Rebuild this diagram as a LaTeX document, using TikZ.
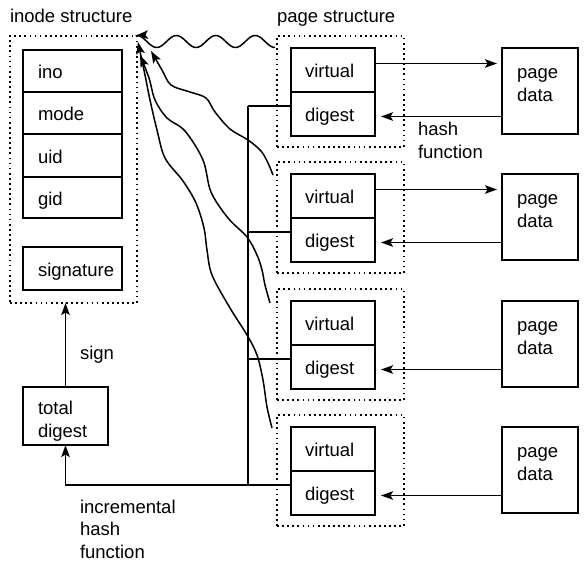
\documentclass[tikz,border=0pt]{standalone}
\usepackage{fontspec}
\setmainfont{Liberation Sans}
\usetikzlibrary{arrows.meta,calc}
\begin{document}
\begin{tikzpicture}[x=1pt,y=-1pt,
  every node/.style={font=\fontsize{18.5}{22.5}\selectfont, inner sep=0pt, outer sep=0pt},
  box/.style={draw, line width=1.5pt, anchor=north west},
  dotbox/.style={draw, line width=1.7pt, dash pattern=on 1.7pt off 3.4pt, anchor=north west},
  lbl/.style={anchor=base west, align=left},
  arr/.style={-{Stealth[length=12pt,width=8.5pt,inset=2.5pt]}},
  ln/.style={line width=1.5pt}
]
\useasboundingbox (0,0) rectangle (584,562);

% titles
\node[lbl] (tinode) at (10,23) {inode structure};
\node[lbl] (tpage) at (277,23) {page structure};

% inode structure
\node[dotbox, minimum width=127pt, minimum height=267pt] (inode) at (10,36) {};
\node[box, minimum width=99pt, minimum height=42pt] (ino) at (23,50) {};
\node[box, minimum width=99pt, minimum height=42pt] (mode) at (23,92) {};
\node[box, minimum width=99pt, minimum height=43pt] (uid) at (23,134) {};
\node[box, minimum width=99pt, minimum height=41pt] (gid) at (23,177) {};
\node[box, minimum width=99pt, minimum height=43pt] (sig) at (23,247) {};
\node[lbl] (tino) at ([xshift=15pt,yshift=-7.5pt]ino.west) {ino};
\node[lbl] (tmode) at ([xshift=15pt,yshift=-7.5pt]mode.west) {mode};
\node[lbl] (tuid) at ([xshift=15pt,yshift=-7.5pt]uid.west) {uid};
\node[lbl] (tgid) at ([xshift=15pt,yshift=-7.5pt]gid.west) {gid};
\node[lbl] (tsig) at ([xshift=15pt,yshift=-7.5pt]sig.west) {signature};

% total digest
\node[box, minimum width=85pt, minimum height=58pt] (td) at (23,387) {};
\node[lbl] (ttd) at (38,437) {total\\digest};

% page structures
\foreach \i/\T in {1/36,2/162,3/289,4/415} {
  \node[dotbox, minimum width=127pt, minimum height=111pt] (ps\i) at (277,\T) {};
  \node[box, minimum width=84pt, minimum height=44pt] (v\i) at (291,\T+12) {};
  \node[box, minimum width=84pt, minimum height=44pt] (d\i) at (291,\T+56) {};
  \node[box, minimum width=76pt, minimum height=86pt] (pd\i) at (502,\T+12) {};
  \node[lbl] (tv\i) at ([xshift=14pt,yshift=-7.5pt]v\i.west) {virtual};
  \node[lbl] (td\i) at ([xshift=14pt,yshift=-7.5pt]d\i.west) {digest};
  \node[lbl] (tpd\i) at (517,\T+65) {page\\data};
  \coordinate (b\i) at ([yshift=-2.5pt]d\i.east);
  \draw[ln,arr,shorten >=6pt] (b\i -| pd\i.west) -- (b\i);
  \coordinate (c\i) at ([yshift=8pt]d\i.west);
}
\foreach \i in {1,2} {
  \coordinate (a\i) at ([yshift=6.5pt]v\i.east);
  \draw[ln,arr,shorten >=5pt] (a\i) -- (a\i -| pd\i.west);
}

% digest bus
\coordinate (bus) at (248,0);
\foreach \i in {1,2,3} { \draw[ln] (c\i) -- (c\i -| bus); }
\draw[ln] (c1 -| bus) -- (c4 -| bus);
\draw[ln,arr] (c4) -| (td.south);

% sign
\draw[ln,arr] (td.north) -- (td.north |- inode.south);

% labels
\node[lbl] (tsign) at (80,359) {sign};
\node[lbl] (tinc) at (80,558) {incremental\\hash\\function};
\node[lbl] (thash) at (418,158) {hash\\function};

% wavy pointers
\draw[ln,arr] plot[domain=275:136,samples=90,smooth] (\x,{41.5-6*cos(9.137*(\x-137))});
\coordinate (s2) at (273,175); \coordinate (e2) at (151,51);
\draw[ln,arr] plot[smooth,tension=0.55] coordinates {(s2) (268,163) (261,151) (248,140) (230,129) (215,112) (206,98) (190,92) (171,85) (162,70) (e2)};
\coordinate (s3) at (270,303); \coordinate (e3) at (140,55);
\draw[ln,arr] plot[smooth,tension=0.55] coordinates {(s3) (265,285) (262,270) (257,255) (247,237) (228,218) (211,192) (203,160) (185,131) (167,118) (155,100) (149,78) (e3)};
\coordinate (s4) at (272,428); \coordinate (e4) at (138,42);
\draw[ln,arr] plot[smooth,tension=0.55] coordinates {(s4) (267,407) (263,380) (257,355) (247,335) (230,308) (212,275) (207,250) (204,228) (196,203) (183,181) (165,158) (157,130) (150,100) (145,75) (e4)};
\end{tikzpicture}
\end{document}
